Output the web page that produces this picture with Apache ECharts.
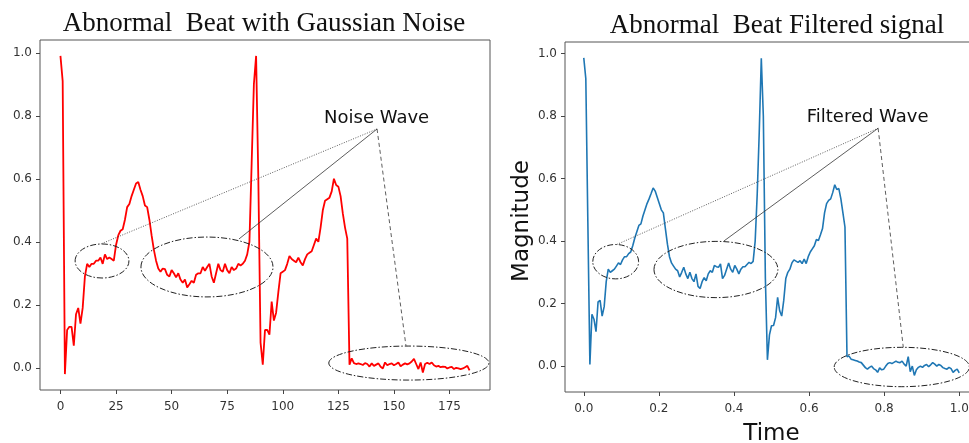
<!DOCTYPE html>
<html><head><meta charset="utf-8">
<script src="https://cdn.jsdelivr.net/npm/echarts@6/dist/echarts.min.js"></script>
<style>html,body{margin:0;padding:0;background:#fff}#c{width:969px;height:443px}</style>
</head><body><div id="c"></div>
<script>
// Noisy abnormal beat (185 samples)
const noisyValues = [
 0.99,0.91,-0.02,0.12,0.13,0.13,0.07,0.17,0.19,0.14,
 0.19,0.29,0.33,0.32,0.33,0.33,0.34,0.34,0.35,0.33,
 0.36,0.345,0.35,0.345,0.34,0.39,0.42,0.435,0.44,0.47,
 0.51,0.52,0.545,0.565,0.585,0.59,0.565,0.545,0.515,0.51,
 0.47,0.42,0.375,0.34,0.315,0.305,0.315,0.313,0.295,0.29,
 0.31,0.30,0.287,0.30,0.28,0.27,0.28,0.255,0.265,0.276,
 0.27,0.295,0.30,0.30,0.32,0.308,0.32,0.33,0.29,0.27,
 0.30,0.33,0.31,0.305,0.33,0.31,0.30,0.32,0.31,0.315,
 0.33,0.325,0.33,0.34,0.36,0.40,0.65,0.90,0.99,0.60,
 0.08,0.01,0.12,0.12,0.105,0.21,0.15,0.175,0.24,0.30,
 0.305,0.31,0.33,0.355,0.345,0.34,0.335,0.35,0.335,0.325,
 0.345,0.36,0.365,0.37,0.39,0.41,0.40,0.445,0.50,0.53,
 0.535,0.54,0.56,0.60,0.58,0.575,0.545,0.49,0.445,0.41,
 0.01,0.03,0.015,0.012,0.014,0.012,0.009,0.015,0.012,0.004,
 0.014,0.006,0.01,0.014,0.003,-0.002,0.017,0.008,0.012,0.014,
 0.008,0.012,0.017,0.005,0.01,0.014,0.011,0.014,0.02,0.028,
 0.012,-0.004,0.017,-0.015,0.012,0.016,0.012,0.017,0.008,0.004,
 0.006,0.002,0.004,0.003,-0.002,0.001,0.003,-0.004,0.0,-0.002,
 -0.004,-0.002,0.002,0.006,-0.008
];
// Filtered abnormal beat (185 samples)
const filteredValues = [
 0.986,0.92,0.46,0.005,0.166,0.15,0.11,0.205,0.21,0.16,
 0.19,0.27,0.31,0.30,0.305,0.31,0.32,0.33,0.325,0.34,
 0.35,0.35,0.36,0.365,0.385,0.41,0.43,0.45,0.455,0.48,
 0.50,0.52,0.535,0.552,0.57,0.56,0.54,0.52,0.50,0.49,
 0.44,0.39,0.35,0.33,0.32,0.31,0.305,0.285,0.30,0.316,
 0.295,0.28,0.30,0.28,0.27,0.295,0.255,0.248,0.27,0.283,
 0.273,0.295,0.305,0.30,0.322,0.318,0.316,0.327,0.28,0.29,
 0.31,0.33,0.31,0.30,0.322,0.31,0.295,0.31,0.318,0.318,
 0.325,0.332,0.328,0.335,0.40,0.55,0.75,0.985,0.80,0.28,
 0.02,0.10,0.129,0.13,0.155,0.22,0.177,0.16,0.21,0.28,
 0.30,0.31,0.33,0.34,0.336,0.332,0.337,0.328,0.342,0.328,
 0.35,0.365,0.375,0.385,0.405,0.402,0.42,0.44,0.49,0.52,
 0.53,0.535,0.555,0.58,0.565,0.568,0.535,0.49,0.445,0.03,
 0.032,0.022,0.02,0.018,0.016,0.013,0.011,0.003,-0.005,-0.01,
 -0.004,0.0,-0.008,-0.012,-0.02,-0.006,-0.012,-0.01,0.0,0.008,
 0.011,0.008,0.012,0.016,0.012,0.011,0.016,0.006,0.0,0.03,
 -0.018,0.0,-0.03,-0.012,-0.004,0.0,-0.004,0.002,0.005,-0.002,
 0.004,0.011,0.006,0.0,0.005,0.002,-0.005,-0.008,-0.01,-0.004,
 -0.008,-0.02,-0.014,-0.01,-0.022
];
const sampleTicks = [0,25,50,75,100,125,150,175];
const timeTicks = [0,0.2,0.4,0.6,0.8,1.0];
const magnitudeTicks = [0,0.2,0.4,0.6,0.8,1.0];
const titles = ['Abnormal  Beat with Gaussian Noise', 'Abnormal  Beat Filtered signal'];

// Annotation callouts in data coordinates
const noiseCallout = { label: 'Noise Wave', textAt: [142.2, 0.792], anchor: [142.4, 0.758],
  ellipses: [
    { c: [18.7, 0.339], r: [12.1, 0.054], tip: [17.8, 0.392], dash: [1, 1.5] },
    { c: [65.9, 0.320], r: [29.7, 0.095], tip: [80.3, 0.409], dash: null },
    { c: [156.7, 0.015], r: [36.0, 0.054], tip: [155.4, 0.070], dash: [4, 3] }
  ]};
const filterCallout = { label: 'Filtered Wave', textAt: [0.756, 0.795], anchor: [0.784, 0.761],
  ellipses: [
    { c: [0.085, 0.334], r: [0.061, 0.055], tip: [0.088, 0.389], dash: [1, 1.5] },
    { c: [0.352, 0.309], r: [0.165, 0.090], tip: [0.373, 0.400], dash: null },
    { c: [0.847, -0.003], r: [0.180, 0.063], tip: [0.851, 0.060], dash: [4, 3] }
  ]};

const n = noisyValues.length;
const noisyData = noisyValues.map((v, i) => [i, v]);
const filteredData = filteredValues.map((v, i) => [i / (n - 1), v]);

const tickLabelX = { color: '#333', fontSize: 12, fontFamily: 'DejaVu Sans', margin: 11 };
const tickLabelY = { color: '#333', fontSize: 12, fontFamily: 'DejaVu Sans', margin: 8 };
const tickStyle = { show: true, length: 4, lineStyle: { color: '#444', width: 1 } };
const noLine = { show: false, onZero: false };

const chart = echarts.init(document.getElementById('c'), null, { renderer: 'canvas' });
chart.setOption({
  animation: false,
  backgroundColor: '#fff',
  title: [
    { text: titles[0], left: 259, top: 5, textAlign: 'center',
      textStyle: { fontFamily: 'Liberation Serif', fontSize: 27, fontWeight: 'normal', color: '#111' } },
    { text: titles[1], left: 772, top: 7, textAlign: 'center',
      textStyle: { fontFamily: 'Liberation Serif', fontSize: 27, fontWeight: 'normal', color: '#111' } }
  ],
  grid: [
    { left: 40, top: 40, width: 450, height: 350, show: true, borderColor: '#555', borderWidth: 1,
      containLabel: false, outerBoundsMode: 'none' },
    { left: 565, top: 42, width: 413, height: 350, show: true, borderColor: '#555', borderWidth: 1,
      containLabel: false, outerBoundsMode: 'none' }
  ],
  xAxis: [
    { type: 'value', gridIndex: 0, min: -9.2, max: 193.2, splitLine: { show: false },
      axisLine: noLine, axisTick: Object.assign({ customValues: sampleTicks }, tickStyle),
      axisLabel: Object.assign({ customValues: sampleTicks, formatter: v => String(Math.round(v)) }, tickLabelX) },
    { type: 'value', gridIndex: 1, min: -0.05, max: 1.05, splitLine: { show: false },
      axisLine: noLine, axisTick: Object.assign({ customValues: timeTicks }, tickStyle),
      axisLabel: Object.assign({ customValues: timeTicks, formatter: v => v.toFixed(1) }, tickLabelX),
      name: 'Time', nameLocation: 'middle', nameGap: 31,
      nameTextStyle: { fontFamily: 'DejaVu Sans', fontSize: 23, color: '#111' } }
  ],
  yAxis: [
    { type: 'value', gridIndex: 0, min: -0.0705, max: 1.0405, splitLine: { show: false },
      axisLine: noLine, axisTick: Object.assign({ customValues: magnitudeTicks }, tickStyle),
      axisLabel: Object.assign({ customValues: magnitudeTicks, formatter: v => v.toFixed(1) }, tickLabelY) },
    { type: 'value', gridIndex: 1, min: -0.083, max: 1.037, splitLine: { show: false },
      axisLine: noLine, axisTick: Object.assign({ customValues: magnitudeTicks }, tickStyle),
      axisLabel: Object.assign({ customValues: magnitudeTicks, formatter: v => v.toFixed(1) }, tickLabelY),
      name: 'Magnitude', nameLocation: 'middle', nameGap: 30, nameRotate: 90,
      nameTextStyle: { fontFamily: 'DejaVu Sans', fontSize: 23, color: '#111', padding: [0, 8, 0, 0] } }
  ],
  series: [
    { type: 'line', xAxisIndex: 0, yAxisIndex: 0, data: noisyData, showSymbol: false, symbol: 'none',
      lineStyle: { color: '#ff0000', width: 1.8 }, z: 2 },
    { type: 'line', xAxisIndex: 1, yAxisIndex: 1, data: filteredData, showSymbol: false, symbol: 'none',
      lineStyle: { color: '#1f77b4', width: 1.6 }, z: 2 }
  ]
});

function buildCallout(callout, axisIdx) {
  const finder = { xAxisIndex: axisIdx, yAxisIndex: axisIdx };
  const px = p => chart.convertToPixel(finder, p);
  const els = [];
  const a = px(callout.anchor);
  callout.ellipses.forEach(e => {
    const c = px(e.c);
    const ex = px([e.c[0] + e.r[0], e.c[1]]);
    const ey = px([e.c[0], e.c[1] + e.r[1]]);
    els.push({ type: 'ellipse', z: 10, silent: true,
      shape: { cx: c[0], cy: c[1], rx: Math.abs(ex[0] - c[0]), ry: Math.abs(c[1] - ey[1]) },
      style: { fill: null, stroke: '#222', lineWidth: 1, lineDash: [6, 2, 1.5, 2] } });
    const t = px(e.tip);
    els.push({ type: 'line', z: 10, silent: true,
      shape: { x1: a[0], y1: a[1], x2: t[0], y2: t[1] },
      style: { stroke: '#333', lineWidth: 0.8, lineDash: e.dash || null } });
  });
  const tp = px(callout.textAt);
  els.push({ type: 'text', z: 11, silent: true, x: tp[0], y: tp[1],
    style: { text: callout.label, fontFamily: 'DejaVu Sans', fontSize: 18, fill: '#111',
      align: 'center', verticalAlign: 'middle' } });
  return els;
}

chart.setOption({ graphic: buildCallout(noiseCallout, 0).concat(buildCallout(filterCallout, 1)) });
</script>
</body></html>
